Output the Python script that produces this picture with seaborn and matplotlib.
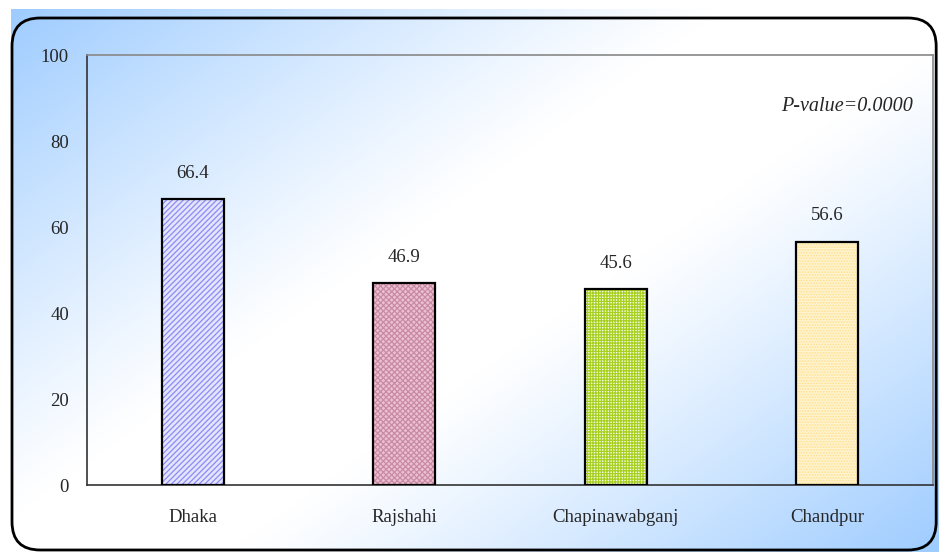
import numpy as np
import pandas as pd
import matplotlib.pyplot as plt
import seaborn as sns
from matplotlib.patches import FancyBboxPatch, Rectangle

# dados do grafico
districts = ['Dhaka', 'Rajshahi', 'Chapinawabganj', 'Chandpur']
percent = [66.4, 46.9, 45.6, 56.6]
y_ticks = [0, 20, 40, 60, 80, 100]
p_text = 'P-value=0.0000'

fill_colors = ['#E4E4FF', '#ECC0D0', '#F4FCE0', '#FFF4D0']
hatch_colors = ['#8C8CF4', '#C88AA4', '#A8D020', '#FFE090']
hatches = ['//////', 'xxxxxx', '++++++', '......']

df = pd.DataFrame({'district': districts, 'percent': percent})

sns.set_style('white')
plt.rcParams['font.family'] = ['Liberation Serif', 'DejaVu Serif']
plt.rcParams['hatch.linewidth'] = 0.9

fig = plt.figure(figsize=(9.39, 5.52), dpi=100)

# fundo com gradiente diagonal (azul - branco - azul)
bg = fig.add_axes([0, 0, 1, 1], zorder=0)
xx, yy = np.meshgrid(np.linspace(0, 1, 400), np.linspace(0, 1, 240))
d = (xx * 0.55 + yy * 0.45)
t = np.clip((np.abs(d - 0.5) - 0.08) / 0.42, 0, 1) ** 1.1
top = np.array([0.62, 0.80, 1.0])
white = np.array([1.0, 1.0, 1.0])
img = white[None, None, :] * (1 - t[..., None]) + top[None, None, :] * t[..., None]
bg.imshow(img, extent=[11 / 939, 1, 0, 1 - 9 / 552], aspect='auto', origin='upper')
bg.set_xlim(0, 1)
bg.set_ylim(0, 1)
bg.axis('off')

# borda arredondada
border = FancyBboxPatch((12 / 939, 2 / 552), 0.997 - 12 / 939, 1 - 18 / 552 - 2 / 552,
                        boxstyle='round,pad=0,rounding_size=0.03',
                        transform=bg.transAxes, fill=False, edgecolor='black',
                        linewidth=2, mutation_aspect=939 / 552)
bg.add_patch(border)

ax = fig.add_axes([87 / 939, 1 - 485 / 552, 846 / 939, 430 / 552], zorder=1)
ax.patch.set_alpha(0)

sns.barplot(data=df, x='district', y='percent', width=0.295, ax=ax)

for patch, fc, hc, h in zip(ax.patches, fill_colors, hatch_colors, hatches):
    patch.set_facecolor(fc)
    patch.set_edgecolor(hc)
    patch.set_hatch(h)
    patch.set_linewidth(0)
    ax.add_patch(Rectangle(patch.get_xy(), patch.get_width(), patch.get_height(),
                           fill=False, edgecolor='black', linewidth=1.6, zorder=3))
    ax.text(patch.get_x() + patch.get_width() / 2, patch.get_height() + 4,
            f'{patch.get_height():.1f}', ha='center', va='bottom', fontsize=13.5)

ax.set_xlim(-0.5, 3.5)
ax.set_ylim(0, 100)
ax.set_yticks(y_ticks)
ax.set_yticklabels([str(v) for v in y_ticks], fontsize=13.5)
ax.set_xticks(range(len(districts)))
ax.set_xticklabels(districts, fontsize=13.5)
ax.tick_params(axis='x', length=0, pad=17)
ax.tick_params(axis='y', length=6, width=1, direction='out', color='#333333', pad=7)
ax.set_xticks([0.5, 1.5, 2.5, 3.5], minor=True)
ax.tick_params(axis='x', which='minor', length=6, direction='out', color='#333333')
ax.set_xlabel('')
ax.set_ylabel('')

for side in ['left', 'bottom']:
    ax.spines[side].set_color('#333333')
    ax.spines[side].set_linewidth(1.2)
for side in ['top', 'right']:
    ax.spines[side].set_color('#888888')
    ax.spines[side].set_linewidth(1.2)

ax.text(0.976, 0.88, p_text, transform=ax.transAxes, ha='right', va='center',
        fontsize=14.5, style='italic')

fig.savefig('out.png', dpi=100)
